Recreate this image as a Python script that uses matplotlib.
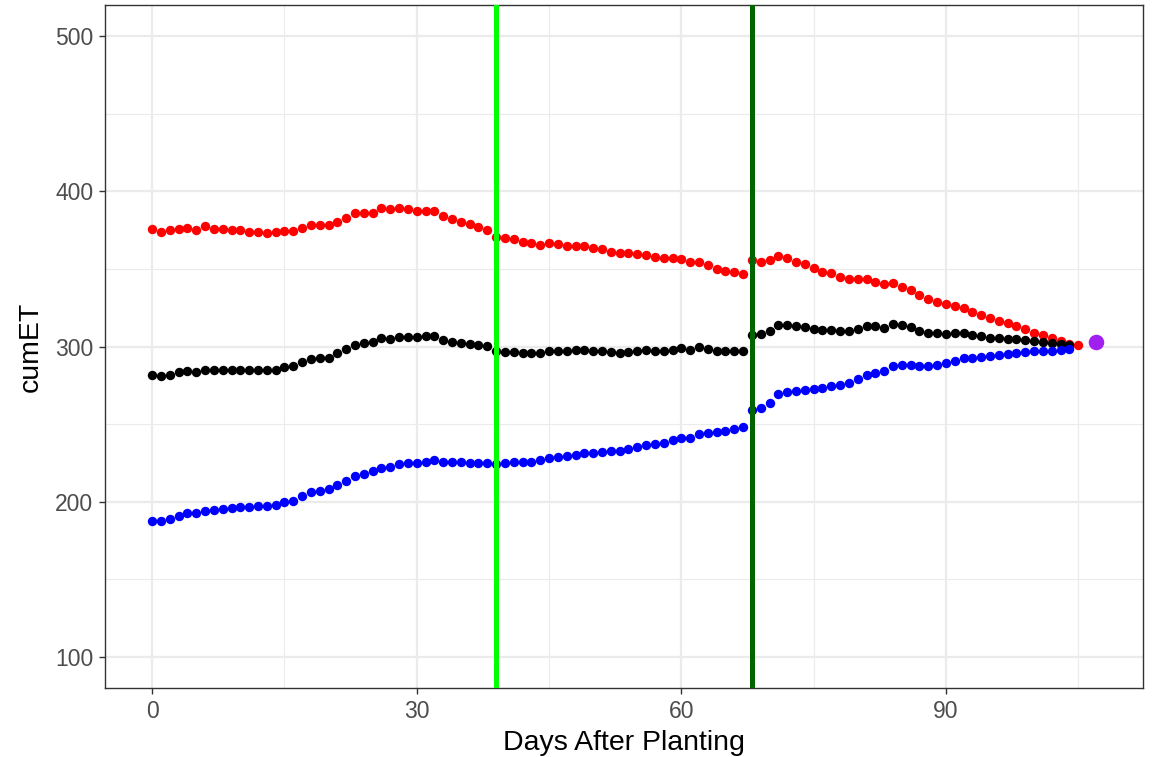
import matplotlib
matplotlib.use("Agg")
import matplotlib.pyplot as plt
from matplotlib.ticker import MultipleLocator
import numpy as np

plt.rcParams['font.family'] = ['Liberation Sans', 'DejaVu Sans']

red_vals = [376, 374, 375, 376, 376.6, 375, 377.5, 376, 376, 375, 375, 374, 374, 373, 374,
            374.5, 374.5, 376.6, 378.3, 378.3, 378.3, 380.5, 382.6, 385.8, 386.3, 386.3, 389,
            388.4, 389, 388.4, 387.6, 387.6, 387, 384, 382, 380.5, 379, 377, 375, 370.7, 369.6,
            369, 367.4, 366.4, 365.3, 366.8, 366, 364.7, 364.7, 364.7, 363.6, 362.5, 361, 360,
            360, 359.6, 358.9, 357.4, 356.8, 356.8, 356.1, 354.2, 354.2, 352.5, 349.9, 348.8,
            348.2, 346.9, 355.9, 354.6, 355.6, 358.4, 356.8, 354.6, 353.1, 350.8, 348.2, 347.1,
            344.6, 343.3, 343.3, 343.3, 341.8, 340.3, 341.1, 338.6, 336.4, 333.2, 330.5, 328.9,
            327.5, 326.2, 324.7, 322.5, 320.4, 318.3, 316.7, 315, 313.3, 311.2, 309, 307.6,
            305.4, 303.3, 301.8, 301.2]

black_vals = [281.9, 280.8, 281.9, 283.6, 284, 283.6, 285.1, 285.1, 285.1, 285.1, 285.1, 284.9,
              284.9, 284.9, 285.1, 286.6, 287.5, 290.2, 291.8, 292.4, 292.8, 295.6, 298.2, 301,
              302, 302.7, 305.3, 304.8, 306.3, 306.3, 305.9, 306.7, 306.7, 304.2, 303.1, 302.5,
              301.6, 301, 300.3, 297.3, 296.7, 296.3, 296.1, 295.6, 295.6, 297.3, 297.3, 297.3,
              297.8, 297.8, 297.3, 297.3, 296.7, 296, 296.7, 297.3, 297.8, 297.3, 297.3, 297.8,
              298.8, 297.8, 299.5, 298.2, 297.3, 297.3, 297.3, 297.4, 307.5, 308, 309.7, 314,
              314, 313.3, 312.5, 311.4, 310.8, 310.8, 310.1, 309.7, 311.4, 312.9, 312.9, 311.8,
              314.4, 313.6, 312.3, 309.7, 308.6, 308.6, 308.2, 308.6, 308.6, 307.6, 306.5, 305.8,
              305.4, 305, 305, 303.9, 303.3, 302.7, 302.2, 301.5, 300.8]

blue_vals = [187.4, 187.4, 188.9, 191, 192.5, 192.7, 194.2, 194.7, 195.3, 196, 196.4, 196.4,
             197.1, 197.5, 198.1, 199.6, 200.7, 203.9, 206, 207.1, 208.1, 210.9, 213.5, 216.7,
             218.2, 219.5, 222, 222.7, 224.2, 224.8, 224.8, 225.7, 226.7, 225.7, 225.3, 225.3,
             224.8, 224.8, 224.8, 224.5, 224.8, 225.3, 225.3, 225.9, 226.9, 228.5, 228.9, 229.5,
             230.2, 231.2, 231.2, 232.3, 232.7, 232.7, 233.8, 235.3, 236.6, 237, 237.7, 239.6,
             240.9, 241.3, 243.9, 244.5, 244.9, 245.6, 247.1, 248.2, 259, 260.5, 263.8, 269.3,
             270.6, 271.6, 272.3, 272.7, 273.4, 274.4, 274.9, 276.6, 279.3, 281.9, 283, 284,
             287.2, 287.9, 287.9, 287.2, 287.2, 288.3, 289.4, 290.9, 292.6, 292.6, 293, 293.6,
             294.3, 295.2, 295.8, 296.2, 296.9, 296.9, 297.3, 298, 298.4]

red_days = list(range(len(red_vals)))
black_days = list(range(len(black_vals)))
blue_days = list(range(len(blue_vals)))

final_day = [107]
final_val = [303]

vline_days = [39, 68]
vline_colors = ['#00FF00', '#006400']

x_ticks = [0, 30, 60, 90]
y_ticks = [100, 200, 300, 400, 500]

fig = plt.figure(figsize=(11.59, 7.57), dpi=100)
ax = fig.add_axes([0.0906, 0.0911, 0.8956, 0.9023])

ms = 46
ax.scatter(red_days, red_vals, s=ms, color='#FF0000', linewidths=0, zorder=3)
ax.scatter(black_days, black_vals, s=ms, color='black', linewidths=0, zorder=3)
ax.scatter(blue_days, blue_vals, s=ms, color='#0000FF', linewidths=0, zorder=3)
for d, c in zip(vline_days, vline_colors):
    ax.axvline(d, color=c, linewidth=3.6, zorder=4)
ax.scatter(final_day, final_val, s=125, color='#A020F0', linewidths=0, zorder=5)

xmin, xmax = 0, 107
xr = xmax - xmin
ax.set_xlim(xmin - 0.05 * xr, xmax + 0.05 * xr)
ymin, ymax = 100, 500
yr = ymax - ymin
ax.set_ylim(ymin - 0.05 * yr, ymax + 0.05 * yr)

ax.set_xticks(x_ticks)
ax.set_yticks(y_ticks)
ax.xaxis.set_minor_locator(MultipleLocator(15))
ax.yaxis.set_minor_locator(MultipleLocator(50))
ax.grid(which='major', color='#EBEBEB', linewidth=1.6, zorder=0)
ax.grid(which='minor', color='#EBEBEB', linewidth=0.8, zorder=0)
ax.set_axisbelow(True)
ax.tick_params(which='minor', length=0)
ax.tick_params(which='major', length=4.5, width=1.0, color='#333333',
               labelcolor='#4D4D4D', labelsize=16.5, pad=4)
for sp in ax.spines.values():
    sp.set_color('#333333')
    sp.set_linewidth(1.0)

ax.set_xlabel('Days After Planting', fontsize=20.5, color='black', labelpad=5)
ax.set_ylabel('cumET', fontsize=20.5, color='black', labelpad=8)

fig.savefig('out.png', dpi=100)
